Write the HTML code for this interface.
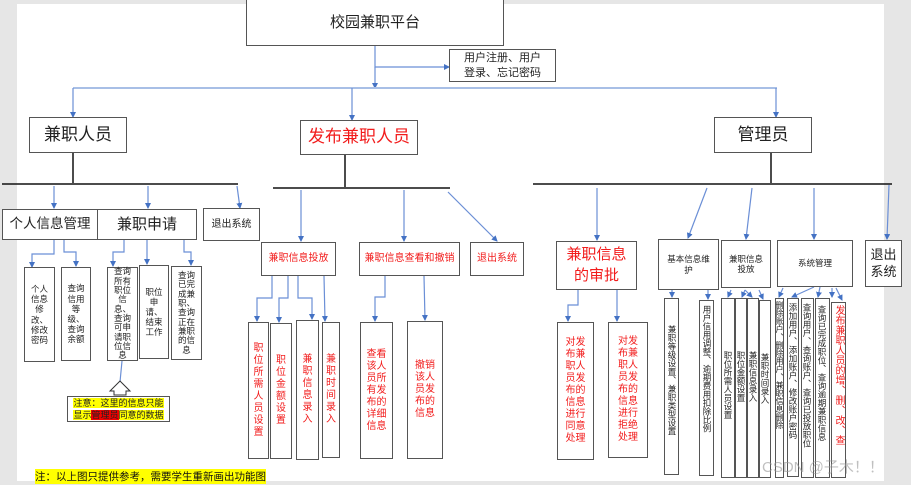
<!DOCTYPE html>
<html><head><meta charset="utf-8"><style>
body{margin:0;width:911px;height:485px;background:#e6e6e6;position:relative;overflow:hidden;font-family:"Liberation Sans","Noto Sans CJK SC",sans-serif;}
.pg{position:absolute;left:17px;top:4px;width:867px;height:477px;background:#fff;}
.b{position:absolute;border:1px solid #555;background:#fff;display:flex;align-items:center;justify-content:center;text-align:center;box-sizing:border-box;color:#222;line-height:1.2;}
.r{color:#f21c1c;}
.v{display:block;writing-mode:vertical-rl;white-space:nowrap;overflow:hidden;font-size:8.5px;line-height:1;text-align:start;padding-top:4px;}
.v span{display:inline-block;}
svg{position:absolute;left:0;top:0;}
</style></head><body>
<div class="pg"></div>
<svg width="911" height="485">
<defs><marker id="a" markerWidth="6" markerHeight="6" refX="5" refY="3" orient="auto" markerUnits="userSpaceOnUse"><path d="M0,0L6,3L0,6z" fill="#4472c4"/></marker></defs>
<g stroke="#6b8fd6" stroke-width="1.2" fill="none" marker-end="url(#a)">
<path d="M375,46V67H449"/>
<path d="M375,67V88"/>
<path d="M73,88H777" marker-end="none" stroke-width="2" stroke="#a8bfe6"/>
<path d="M73,88V117"/><path d="M352,88V120"/><path d="M776,88V117"/>
<path d="M54,186V208"/><path d="M148,186V208"/><path d="M237,186L240,208"/>
<path d="M54,240V254H32V267"/><path d="M64,240V252H76V266"/>
<path d="M124,240V252H113V266"/><path d="M147,240V264"/><path d="M184,240V252H191V265"/>
<path d="M301,190V241"/><path d="M404,190V241"/><path d="M448,192L497,241"/>
<path d="M272,276V298H257V321"/><path d="M288,276V298H279V322"/><path d="M298,276V298H312V319"/><path d="M324,276L325,321"/>
<path d="M385,276V297H375V321"/><path d="M424,276L425,320"/>
<path d="M597,188V240"/><path d="M707,188L688,238"/><path d="M752,188L746,239"/><path d="M814,188V239"/><path d="M889,185L887,239"/>
<path d="M578,290V305H568V321"/><path d="M617,290V321"/>
<path d="M672,290V297"/><path d="M708,290V299"/>
<path d="M731,290L728,297"/><path d="M745,290L742,297"/><path d="M745,290L752,297"/><path d="M759,290L763,299"/>
<path d="M783,288L779,297"/><path d="M814,287L792,297"/><path d="M820,287L818,297"/><path d="M832,288V297"/><path d="M836,288L842,300"/>
<path d="M122,361L120,382" marker-end="none"/>
</g>
<g stroke="#111" stroke-width="1.5">
<path d="M73,153V183"/><path d="M2,184H238"/>
<path d="M345,155V187"/><path d="M273,188H450"/>
<path d="M771,153V183"/><path d="M533,184H892"/>
</g>
<path d="M120,381L110,391H114V395H126V391H130Z" fill="#fff" stroke="#333" stroke-width="1"/>
</svg>

<div class="b" style="left:246px;top:-1px;width:258px;height:47px;font-size:15px">校园兼职平台</div>
<div class="b" style="left:449px;top:49px;width:107px;height:33px;font-size:11px;line-height:1.35">用户注册、用户<br>登录、忘记密码</div>
<div class="b" style="left:29px;top:117px;width:98px;height:36px;font-size:17px">兼职人员</div>
<div class="b r" style="left:300px;top:120px;width:118px;height:35px;font-size:17px">发布兼职人员</div>
<div class="b" style="left:714px;top:117px;width:98px;height:36px;font-size:17px">管理员</div>

<div class="b" style="left:2px;top:209px;width:96px;height:31px;font-size:13.5px">个人信息管理</div>
<div class="b" style="left:97px;top:209px;width:100px;height:31px;font-size:15px">兼职申请</div>
<div class="b" style="left:203px;top:208px;width:57px;height:33px;font-size:10px">退出系统</div>
<div class="b" style="left:24px;top:267px;width:31px;height:95px;font-size:8.5px;padding:0 3px">个人信息修改、修改密码</div>
<div class="b" style="left:61px;top:267px;width:30px;height:94px;font-size:8.5px;padding:0 3px">查询信用等级、查询余额</div>
<div class="b" style="left:107px;top:267px;width:31px;height:94px;font-size:8.5px;padding:0 4px;line-height:1.1">查询所有职位信息、查询可申请职位信息</div>
<div class="b" style="left:139px;top:265px;width:30px;height:94px;font-size:8.5px;padding:0 3px">职位申请、结束工作</div>
<div class="b" style="left:171px;top:266px;width:31px;height:94px;font-size:8.5px;padding:0 4px;line-height:1.1">查询已完成兼职、查询正在兼职的信息</div>
<div class="b" style="left:67px;top:396px;width:103px;height:26px;font-size:9px;line-height:1.3;display:block;padding-top:1px"><span style="background:#ff0">注意：这里的信息只能</span><br><span style="background:#ff0">显示<span style="background:#e00">管理员</span>同意的数据</span></div>
<div style="position:absolute;left:35px;top:469px;font-size:10.5px;background:#ff0;color:#111">注：以上图只提供参考，需要学生重新画出功能图</div>

<div class="b r" style="left:261px;top:242px;width:75px;height:34px;font-size:10px">兼职信息投放</div>
<div class="b r" style="left:359px;top:242px;width:101px;height:34px;font-size:10px">兼职信息查看和撤销</div>
<div class="b r" style="left:470px;top:242px;width:54px;height:34px;font-size:10px">退出系统</div>
<div class="b r" style="left:248px;top:322px;width:21px;height:137px;font-size:10px;padding:0 4px">职位所需人员设置</div>
<div class="b r" style="left:270px;top:323px;width:22px;height:136px;font-size:10px;padding:0 5px">职位金额设置</div>
<div class="b r" style="left:296px;top:320px;width:23px;height:140px;font-size:10px;padding:0 5px">兼职信息录入</div>
<div class="b r" style="left:322px;top:322px;width:18px;height:136px;font-size:10px;padding:0 3px">兼职时间录入</div>
<div class="b r" style="left:360px;top:322px;width:33px;height:137px;font-size:10px;padding:0 5px">查看该人员所有发布的详细信息</div>
<div class="b r" style="left:407px;top:321px;width:36px;height:138px;font-size:10px;padding:0 6px">撤销该人员发布的信息</div>

<div class="b r" style="left:556px;top:241px;width:81px;height:49px;font-size:15px;line-height:1.35">兼职信息<br>的审批</div>
<div class="b" style="left:658px;top:239px;width:61px;height:51px;font-size:8.5px;padding:0 6px">基本信息维护</div>
<div class="b" style="left:721px;top:240px;width:50px;height:48px;font-size:8.5px;padding:0 6px">兼职信息投放</div>
<div class="b" style="left:777px;top:240px;width:76px;height:47px;font-size:8.5px">系统管理</div>
<div class="b" style="left:865px;top:240px;width:37px;height:47px;font-size:13px;padding:0 2px;line-height:1.3">退出<br>系统</div>
<div class="b r" style="left:557px;top:322px;width:37px;height:138px;font-size:10px;padding:0 6px">对发布兼职人员发布的信息进行同意处理</div>
<div class="b r" style="left:608px;top:322px;width:40px;height:136px;font-size:10px;padding:0 7px">对发布兼职人员发布的信息进行拒绝处理</div>

<div class="b v" style="left:664px;top:298px;width:15px;height:177px;padding-top:26px;padding-right:2px">兼职等级设置、兼职类型设置</div>
<div class="b v" style="left:699px;top:300px;width:15px;height:176px;padding-top:4px;padding-right:2px">用户信用调整、逾期费用扣除比例</div>
<div class="b v" style="left:721px;top:298px;width:14px;height:180px;padding-top:52px;padding-right:2px">职位所需人员设置</div>
<div class="b v" style="left:735px;top:298px;width:12px;height:180px;padding-top:52px;padding-right:1px">职位金额设置</div>
<div class="b v" style="left:747px;top:298px;width:12px;height:180px;padding-top:52px;padding-right:1px">兼职信息录入</div>
<div class="b v" style="left:759px;top:300px;width:12px;height:178px;padding-top:52px;padding-right:1px">兼职时间录入</div>
<div class="b v" style="left:775px;top:298px;width:9px;height:180px;padding-top:2px;font-size:8px">删除账户、删除用户、兼职信息删除</div>
<div class="b v" style="left:787px;top:298px;width:12px;height:179px;padding-top:4px;padding-right:1px">添加用户、添加账户、修改账户密码</div>
<div class="b v" style="left:801px;top:298px;width:13px;height:180px;padding-top:4px;padding-right:2px">查询用户、查询账户、查询已投放职位</div>
<div class="b v" style="left:815px;top:298px;width:15px;height:180px;padding-top:6px;padding-right:3px">查询已完成职位、查询逾期兼职信息</div>
<div class="b v r" style="left:831px;top:302px;width:15px;height:176px;font-size:10px;padding-top:2px;padding-right:2px">发布兼职人员的增、删、改、查</div>

<div style="position:absolute;left:762px;top:456px;font-size:15px;color:rgba(150,150,150,0.6)">CSDN @子木！！</div>
</body></html>
